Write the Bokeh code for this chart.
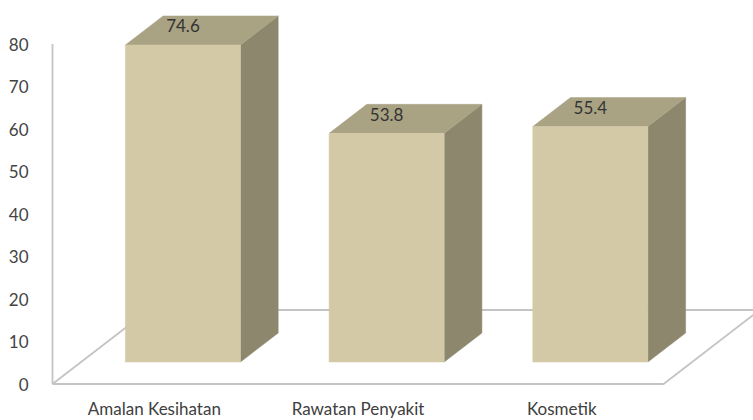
from bokeh.plotting import figure
from bokeh.models import Range1d, FixedTicker, ColumnDataSource
from bokeh.core.properties import value
from bokeh.embed import file_html
from bokeh.resources import INLINE

# ---- data ----
categories = ["Amalan Kesihatan", "Rawatan Penyakit", "Kosmetik"]
values = [74.6, 53.8, 55.4]
value_labels = ["74.6", "53.8", "55.4"]
y_ticks = [0, 10, 20, 30, 40, 50, 60, 70, 80]
y_axis_max = 80

# ---- layout / projection constants (pixels) ----
W, H = 753, 420
FRAME_LEFT = 48          # frame left edge in pixels
ORIGIN_X = 52            # pixel x of floor front-left corner
ZERO_PX = 383.5          # pixel y of value 0 on the floor front edge
PX_PER_UNIT = 4.25       # vertical pixels per value unit
SLOT_PX = 203.7          # pixel width of one category slot
DEPTH_RATIO = 1.3        # horizontal shift per vertical pixel of depth
FLOOR_DEPTH = 74         # floor depth (vertical px)
BAR_FRONT_GAP = 22       # depth from floor front to bar front face
BAR_DEPTH = 29           # bar depth (vertical px)
BAR_W = 0.565            # bar width as fraction of slot
LABEL_RISE = 19          # value label above front top edge (px)
CAT_LABEL_PX = 408       # pixel y of category label centres

FONT = "Lato"

def ux(px):
    return px / SLOT_PX

def uy(px):
    return px / PX_PER_UNIT

n = len(categories)

p = figure(
    width=W, height=H, output_backend="svg", toolbar_location=None,
    x_axis_location=None,
    x_range=Range1d(-ux(ORIGIN_X - FRAME_LEFT), ux(W - ORIGIN_X)),
    y_range=Range1d(-uy(H - ZERO_PX), uy(ZERO_PX)),
    min_border_left=FRAME_LEFT, min_border_right=0,
    min_border_top=0, min_border_bottom=0,
)
p.outline_line_color = None
p.grid.visible = False
p.background_fill_color = "white"
p.border_fill_color = "white"

# y axis
ax = p.yaxis[0]
ax.ticker = FixedTicker(ticks=y_ticks)
ax.axis_line_color = None
ax.major_tick_line_color = None
ax.minor_tick_line_color = None
ax.major_label_standoff = 14
ax.major_label_text_font = FONT
ax.major_label_text_font_size = "17px"
ax.major_label_text_color = "#444444"

# floor outline
fdx, fdy = ux(FLOOR_DEPTH * DEPTH_RATIO), uy(FLOOR_DEPTH)
p.patch([0, n, n + fdx, fdx], [0, 0, fdy, fdy],
        fill_color=None, line_color="#C4C4C4", line_width=1.8)
# vertical axis line
p.segment(x0=[0], y0=[0], x1=[0], y1=[y_axis_max], line_color="#C4C4C4", line_width=1.8)

# bars
gap = (1 - BAR_W) / 2
dfx, dfy = ux(BAR_FRONT_GAP * DEPTH_RATIO), uy(BAR_FRONT_GAP)
bdx, bdy = ux(BAR_DEPTH * DEPTH_RATIO), uy(BAR_DEPTH)

front_xs, front_ys, top_xs, top_ys, side_xs, side_ys = [], [], [], [], [], []
lab_x, lab_y = [], []
for i, v in enumerate(values):
    xl = i + gap + dfx
    xr = xl + BAR_W
    yb = dfy
    yt = v + dfy
    front_xs.append([xl, xr, xr, xl]); front_ys.append([yb, yb, yt, yt])
    top_xs.append([xl, xr, xr + bdx, xl + bdx]); top_ys.append([yt, yt, yt + bdy, yt + bdy])
    side_xs.append([xr, xr + bdx, xr + bdx, xr]); side_ys.append([yb, yb + bdy, yt + bdy, yt])
    lab_x.append((xl + xr) / 2)
    lab_y.append(yt + uy(LABEL_RISE))

p.patches(side_xs, side_ys, fill_color="#8C876D", line_color="#8C876D", line_width=0.5)
p.patches(top_xs, top_ys, fill_color="#A9A384", line_color="#A9A384", line_width=0.5)
p.patches(front_xs, front_ys, fill_color="#D3C9A6", line_color="#D3C9A6", line_width=0.5)

p.text(x=lab_x, y=lab_y, text=value_labels, text_font=value(FONT),
       text_font_size="17px", text_color="#333333",
       text_align="center", text_baseline="middle")

# category labels
cat_x = [i + 0.5 for i in range(n)]
cat_y = [-uy(CAT_LABEL_PX - ZERO_PX)] * n
p.text(x=cat_x, y=cat_y, text=categories, text_font=value(FONT),
       text_font_size="17px", text_color="#404040",
       text_align="center", text_baseline="middle")

open("out.html", "w").write(file_html(p, INLINE))
